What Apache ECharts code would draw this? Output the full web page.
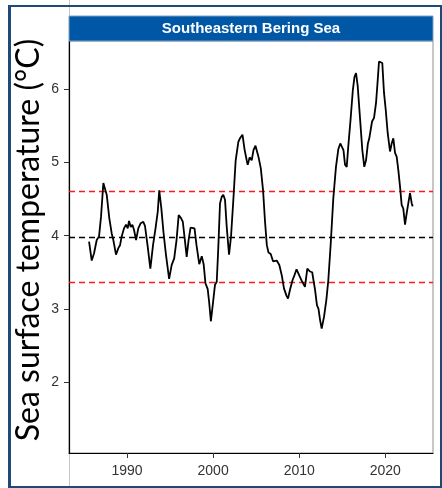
<!DOCTYPE html>
<html>
<head>
<meta charset="utf-8">
<script src="https://cdn.jsdelivr.net/npm/echarts@6/dist/echarts.min.js"></script>
<style>
html,body{margin:0;padding:0;background:#fff;}
#chart{width:442px;height:488px;}
</style>
</head>
<body>
<div id="chart"></div>
<script>
var panelTitle = 'Southeastern Bering Sea';
var yTitle = 'Sea surface temperature (°C)';
var xTicks = [1990, 2000, 2010, 2020];
var yTicks = [2, 3, 4, 5, 6];
var meanValue = 3.985;
var upperValue = 4.6;
var lowerValue = 3.37;

var years = [1985.59,1985.90,1986.17,1986.48,1986.75,1986.98,1987.25,1987.44,1987.64,1987.94,
1988.22,1988.41,1988.72,1988.99,1989.19,1989.38,1989.65,1989.88,1990.08,1990.23,
1990.43,1990.62,1990.81,1991.05,1991.31,1991.59,1991.89,1992.09,1992.38,1992.71,
1993.02,1993.31,1993.57,1993.74,1993.98,1994.24,1994.52,1994.89,1995.19,1995.48,
1995.75,1996.00,1996.27,1996.48,1996.69,1996.93,1997.15,1997.38,1997.61,1997.84,
1998.07,1998.39,1998.68,1998.90,1999.11,1999.37,1999.54,1999.74,2000.02,2000.22,
2000.42,2000.60,2000.80,2001.00,2001.18,2001.38,2001.58,2001.85,2002.08,2002.35,
2002.62,2002.93,2003.12,2003.41,2003.65,2003.90,2004.02,2004.24,2004.48,2004.69,
2004.92,2005.08,2005.28,2005.54,2005.80,2006.03,2006.24,2006.43,2006.69,2006.96,
2007.39,2007.69,2007.97,2008.23,2008.52,2008.70,2008.93,2009.22,2009.45,2009.69,
2009.86,2010.03,2010.27,2010.48,2010.67,2010.94,2011.08,2011.25,2011.51,2011.66,
2011.84,2012.06,2012.24,2012.42,2012.61,2012.88,2013.15,2013.38,2013.66,2013.96,
2014.27,2014.54,2014.77,2014.97,2015.14,2015.32,2015.52,2015.70,2015.96,2016.23,
2016.42,2016.60,2016.79,2017.06,2017.33,2017.56,2017.76,2017.98,2018.14,2018.28,
2018.46,2018.69,2018.92,2019.09,2019.27,2019.47,2019.65,2019.85,2020.05,2020.28,
2020.55,2020.74,2020.93,2021.13,2021.32,2021.51,2021.71,2021.90,2022.09,2022.29,
2022.49,2022.67,2022.87,2023.07,2023.18];

var sst = [3.92,3.66,3.76,3.94,3.99,4.26,4.72,4.72,4.56,4.24,
4.03,3.94,3.74,3.83,3.87,3.99,4.10,4.15,4.10,4.20,
4.12,4.15,4.08,3.94,4.10,4.17,4.19,4.13,3.87,3.55,
3.87,4.10,4.33,4.62,4.38,4.04,3.74,3.41,3.60,3.69,
3.94,4.28,4.24,4.19,3.97,3.71,3.94,4.11,4.10,4.10,
3.87,3.61,3.72,3.61,3.35,3.27,3.09,2.83,3.12,3.33,
3.37,3.83,4.44,4.53,4.56,4.49,4.12,3.74,3.99,4.49,
5.03,5.28,5.33,5.38,5.18,5.03,4.97,5.07,5.03,5.17,
5.23,5.24,5.07,4.92,4.62,4.19,3.87,3.77,3.75,3.65,
3.66,3.60,3.46,3.28,3.18,3.14,3.26,3.39,3.46,3.54,
3.55,3.45,3.39,3.39,3.30,3.55,3.57,3.51,3.50,3.39,
3.26,3.05,3.00,2.85,2.73,2.89,3.12,3.39,3.89,4.51,
4.94,5.18,5.26,5.26,5.17,4.97,4.94,5.22,5.58,5.99,
6.17,6.22,6.05,5.61,5.17,4.94,5.03,5.26,5.33,5.31,
5.56,5.61,5.81,6.08,6.38,6.39,6.36,5.95,5.72,5.40,
5.15,5.26,5.33,5.13,5.08,4.90,4.67,4.42,4.37,4.15,
4.31,4.44,4.58,4.44,4.40];

var seriesData = years.map(function (y, i) { return [y, sst[i]]; });

var chart = echarts.init(document.getElementById('chart'), null, {renderer: 'canvas'});
var frameColor = '#1F4A78';
var option = {
  backgroundColor: '#ffffff',
  animation: false,
  grid: {
    left: 69, top: 41, right: 9, bottom: 35,
    show: true, borderColor: '#8f8f8f', borderWidth: 1, backgroundColor: '#fff'
  },
  xAxis: {
    type: 'value', min: 1983.26, max: 2025.54,
    axisLine: {show: true, onZero: false, lineStyle: {color: '#000', width: 1.2}},
    axisTick: {show: true, length: 5, customValues: xTicks, lineStyle: {color: '#333'}},
    axisLabel: {customValues: xTicks, color: '#333', fontSize: 14, margin: 11,
      fontFamily: 'Liberation Sans, Arial, sans-serif',
      formatter: function (v) { return String(Math.round(v)); }},
    splitLine: {show: false}
  },
  yAxis: {
    type: 'value', min: 1.03, max: 6.66,
    axisLine: {show: true, onZero: false, lineStyle: {color: '#000', width: 1.2}},
    axisTick: {show: true, length: 5, customValues: yTicks, lineStyle: {color: '#333'}},
    axisLabel: {customValues: yTicks, color: '#333', fontSize: 14, margin: 10,
      fontFamily: 'Liberation Sans, Arial, sans-serif',
      formatter: function (v) { return String(Math.round(v)); }},
    splitLine: {show: false}
  },
  series: [{
    type: 'line',
    data: seriesData,
    showSymbol: false,
    symbol: 'none',
    lineStyle: {color: '#000', width: 1.8},
    z: 3,
    markLine: {
      silent: true,
      symbol: ['none', 'none'],
      label: {show: false},
      lineStyle: {type: [6, 4], width: 1.3},
      z: 2,
      data: [
        {yAxis: upperValue, lineStyle: {color: '#ff1a1a', type: [6, 4], width: 1.3}},
        {yAxis: meanValue, lineStyle: {color: '#000', type: [6, 4], width: 1.3}},
        {yAxis: lowerValue, lineStyle: {color: '#ff1a1a', type: [6, 4], width: 1.3}}
      ]
    }
  }],
  graphic: [
    {type: 'rect', shape: {x: 69, y: 16, width: 364, height: 25},
      style: {fill: '#0057A6', stroke: '#7f9fc4', lineWidth: 1}, z: 10},
    {type: 'text', x: 251, y: 29,
      style: {text: panelTitle, fill: '#fff', font: 'bold 15px "Liberation Sans", Arial, sans-serif',
        textAlign: 'center', textVerticalAlign: 'middle'}, z: 11},
    {type: 'text', x: 29, y: 240, rotation: Math.PI / 2,
      style: {text: yTitle, fill: '#000', font: '32px Lato, sans-serif',
        textAlign: 'center', textVerticalAlign: 'middle'}, z: 11},
    {type: 'line', shape: {x1: 69.5, y1: 0, x2: 69.5, y2: 16}, style: {stroke: '#c8c8c8', lineWidth: 1}, z: 5},
    {type: 'line', shape: {x1: 69.5, y1: 454, x2: 69.5, y2: 488}, style: {stroke: '#c8c8c8', lineWidth: 1}, z: 5},
    {type: 'line', shape: {x1: 8, y1: 6, x2: 442, y2: 6}, style: {stroke: frameColor, lineWidth: 2}, z: 12},
    {type: 'line', shape: {x1: 9.5, y1: 5, x2: 9.5, y2: 488}, style: {stroke: frameColor, lineWidth: 3}, z: 12},
    {type: 'line', shape: {x1: 441, y1: 5, x2: 441, y2: 488}, style: {stroke: frameColor, lineWidth: 2}, z: 12},
    {type: 'line', shape: {x1: 8, y1: 487, x2: 442, y2: 487}, style: {stroke: frameColor, lineWidth: 2}, z: 12}
  ]
};
chart.setOption(option);
</script>
</body>
</html>
